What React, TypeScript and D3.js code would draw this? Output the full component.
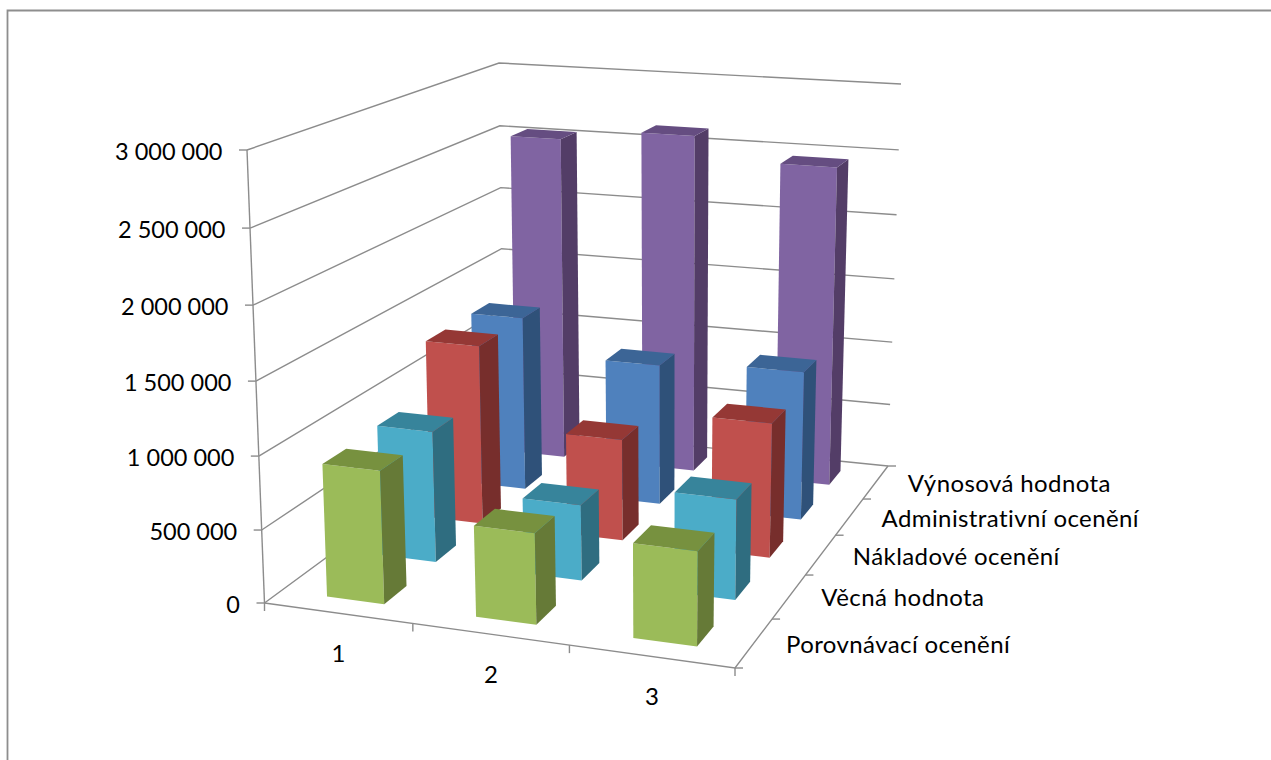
import React from "react";
import * as d3 from "d3";

const categories = ["1", "2", "3"];
const seriesNames = [
  "Porovnávací ocenění",
  "Věcná hodnota",
  "Nákladové ocenění",
  "Administrativní ocenění",
  "Výnosová hodnota",
];
const porovnavaci = [910000, 615000, 630000];
const vecna = [930000, 530000, 695000];
const nakladove = [1320000, 740000, 970000];
const administrativni = [1325000, 1060000, 1110000];
const vynosova = [2530000, 2620000, 2450000];
const seriesValues = [porovnavaci, vecna, nakladove, administrativni, vynosova];
const yTicks = [0, 500000, 1000000, 1500000, 2000000, 2500000, 3000000];

const faceColors = ["#9BBB59", "#4BACC8", "#C0504D", "#4F81BD", "#8064A2"];
const topColors = ["#77913F", "#37849B", "#953835", "#3C6596", "#654D81"];
const sideColors = ["#667A37", "#2F6D80", "#772E2C", "#2F5179", "#533D67"];
const axisColor = "#8C8C8C";

type Pt = [number, number];

// Homography taking the unit square to four screen corners.
function unitSquareHomography(p00: Pt, p10: Pt, p11: Pt, p01: Pt) {
  const [x0, y0] = p00, [x1, y1] = p10, [x2, y2] = p11, [x3, y3] = p01;
  const dx1 = x1 - x2, dx2 = x3 - x2, sx = x0 - x1 + x2 - x3;
  const dy1 = y1 - y2, dy2 = y3 - y2, sy = y0 - y1 + y2 - y3;
  const den = dx1 * dy2 - dx2 * dy1;
  const g = (sx * dy2 - dx2 * sy) / den;
  const h = (dx1 * sy - sx * dy1) / den;
  const a = x1 - x0 + g * x1, b = x3 - x0 + h * x3;
  const d = y1 - y0 + g * y1, e = y3 - y0 + h * y3;
  return (u: number, v: number): Pt => {
    const w = g * u + h * v + 1;
    return [(a * u + b * v + x0) / w, (d * u + e * v + y0) / w];
  };
}

// Bottom and top planes of the plot box.
const floorPlane = unitSquareHomography([264.5, 603], [735, 668], [888, 466], [504, 427]);
const ceilingPlane = unitSquareHomography([247, 150], [742, 189], [901, 84], [499, 63]);

const uScale = d3.scaleLinear().domain([0, categories.length]).range([0, 1]);
const vScale = d3.scaleLinear().domain([0, seriesNames.length]).range([0, 1]);
const hScale = d3.scaleLinear().domain([0, 3000000]).range([0, 1]);

// Foreshortening of the vertical axis: the upper bands read slightly taller.
const riseFraction = (t: number) => (t * 0.96) / (1 - 0.04 * t);

// Projection from category position, series depth and value to the screen.
function project(cat: number, depth: number, value: number): Pt {
  const u = uScale(cat), v = vScale(depth), f = riseFraction(hScale(value));
  const b = floorPlane(u, v), t = ceilingPlane(u, v);
  return [b[0] + (t[0] - b[0]) * f, b[1] + (t[1] - b[1]) * f];
}

const polygon = (pts: Pt[]) => pts.map((p) => p.map((n) => n.toFixed(2)).join(",")).join(" ");
const linePath = d3.line<Pt>();

const barU0 = 0.315, barU1 = 0.705;
const barV0 = 0.29, barV1 = 0.71;

const FONT = "Lato, sans-serif";

export default function App() {
  const maxY = yTicks[yTicks.length - 1];
  const nc = categories.length, ns = seriesNames.length;
  return (
    <svg width={1271} height={760} style={{ position: "absolute", left: 0, top: 0, background: "#fff" }}>
      <path d="M7.5,760 V10.5 H1271" fill="none" stroke="#8E8E8E" strokeWidth={1.8} />

      {/* Wall gridlines */}
      {yTicks.map((t) => (
        <path
          key={t}
          d={linePath([project(0, 0, t), project(0, ns, t), project(nc, ns, t)]) ?? ""}
          fill="none"
          stroke={axisColor}
          strokeWidth={1.4}
        />
      ))}

      {/* Axes and tick marks */}
      <path d={linePath([project(0, 0, 0), project(0, 0, maxY)]) ?? ""} stroke={axisColor} strokeWidth={1.4} fill="none" />
      <path d={linePath([project(0, 0, 0), project(nc, 0, 0), project(nc, ns, 0)]) ?? ""} stroke={axisColor} strokeWidth={1.4} fill="none" />
      {yTicks.map((t) => {
        const [x, y] = project(0, 0, t);
        return <line key={t} x1={x - 8} x2={x} y1={y} y2={y} stroke={axisColor} strokeWidth={1.4} />;
      })}
      {d3.range(nc + 1).map((i) => {
        const [x, y] = project(i, 0, 0);
        return <line key={i} x1={x} x2={x} y1={y} y2={y + 8} stroke={axisColor} strokeWidth={1.4} />;
      })}
      {d3.range(ns + 1).map((i) => {
        const [x, y] = project(nc, i, 0);
        return <line key={i} x1={x} x2={x + 8} y1={y} y2={y} stroke={axisColor} strokeWidth={1.4} />;
      })}

      {/* Bars, painted from the back row forward */}
      {d3.range(ns - 1, -1, -1).map((s) =>
        categories.map((_, c) => {
          const val = seriesValues[s][c];
          const u0 = c + barU0, u1 = c + barU1, v0 = s + barV0, v1 = s + barV1;
          const fb0 = project(u0, v0, 0), fb1 = project(u1, v0, 0), bb1 = project(u1, v1, 0);
          const ft0 = project(u0, v0, val), ft1 = project(u1, v0, val), bt1 = project(u1, v1, val), bt0 = project(u0, v1, val);
          return (
            <g key={`${s}-${c}`}>
              <polygon points={polygon([ft0, ft1, fb1, fb0])} fill={faceColors[s]} />
              <polygon points={polygon([ft1, bt1, bb1, fb1])} fill={sideColors[s]} />
              <polygon points={polygon([ft0, bt0, bt1, ft1])} fill={topColors[s]} />
            </g>
          );
        })
      )}

      {/* Labels */}
      <g fontFamily={FONT} fontSize={23.5} fill="#000">
        {yTicks.map((t) => {
          const [x, y] = project(0, 0, t);
          return (
            <text key={t} x={x - 24.5} y={y + 9.5} textAnchor="end">
              {d3.format(",")(t).replace(/,/g, " ")}
            </text>
          );
        })}
      </g>
      <g fontFamily={FONT} fontSize={24} letterSpacing={0.4} fill="#000">
        {categories.map((c, i) => {
          const [x, y] = project(i + 0.5, 0, 0);
          return <text key={c} x={x + 1} y={y + 49} textAnchor="middle">{c}</text>;
        })}
        {seriesNames.map((n, i) => {
          const [x, y] = project(nc, i + 0.5, 0);
          return <text key={n} x={x + 32} y={y + 10}>{n}</text>;
        })}
      </g>
    </svg>
  );
}
